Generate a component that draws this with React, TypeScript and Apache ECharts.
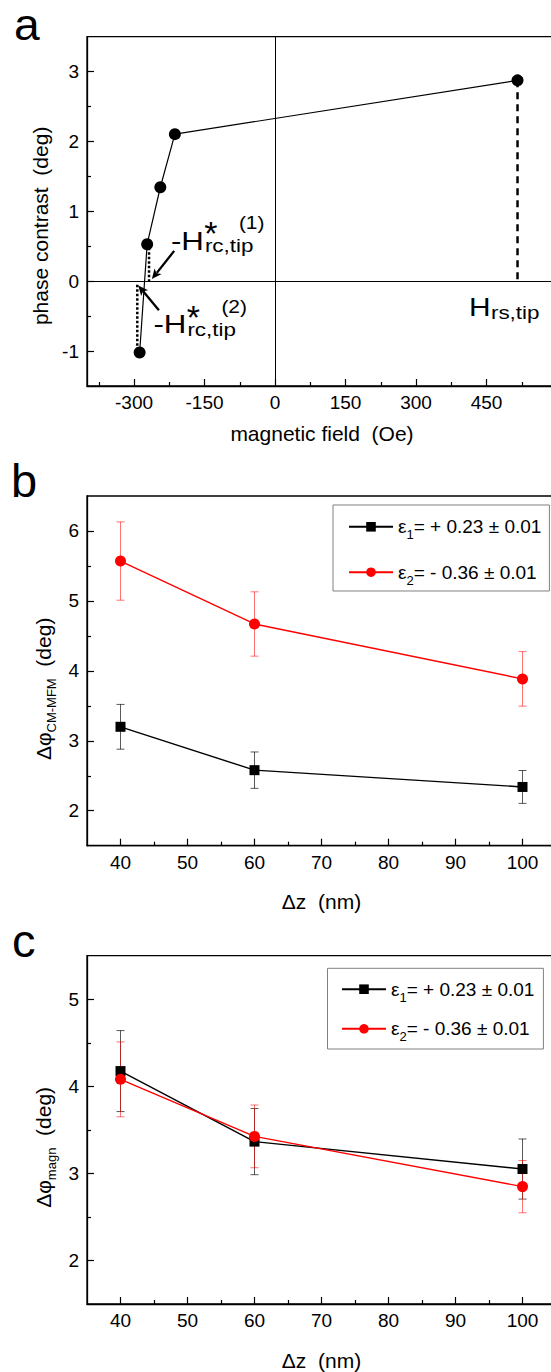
import React, { useEffect, useRef } from 'react';
import * as echarts from 'echarts';

const FONT = '"Liberation Sans", Arial, Helvetica, sans-serif';

// ---------- Panel a : phase contrast vs magnetic field ----------
const fieldOe = [-288, -272, -244, -213, 516];
const phaseDeg = [-1.02, 0.53, 1.345, 2.105, 2.875];
const aXTicks = [-300, -150, 0, 150, 300, 450];
const aXMinor = [-375, -225, -75, 75, 225, 375, 525];
const aYTicks = [-1, 0, 1, 2, 3];
const aYMinor = [-0.5, 0.5, 1.5, 2.5];
const rcTip1Line = [[-268, 0.48], [-268, 0]];
const rcTip2Line = [[-293, -0.05], [-293, -0.97]];
const arrow1 = [[-214.5, 0.434], [-262, 0.03]];
const arrow2 = [[-247, -0.415], [-291, -0.06]];
// annotation anchors (data coords)
const ann1Anchor = [-221.5, 0.58];
const ann2Anchor = [-258.7, -0.62];
const hrsAnchor = [412.6, -0.365];

// ---------- Panels b, c ----------
const dz = [40, 60, 100];
const bEps1 = [3.2, 2.58, 2.34];
const bEps1Err = [0.32, 0.26, 0.235];
const bEps2 = [5.57, 4.67, 3.885];
const bEps2Err = [0.56, 0.46, 0.39];
const cEps1 = [4.175, 3.365, 3.05];
const cEps1Err = [0.465, 0.38, 0.345];
const cEps2 = [4.08, 3.425, 2.848];
const cEps2Err = [0.43, 0.36, 0.3];
const dzTicks = [40, 50, 60, 70, 80, 90, 100];
const dzMinor = [45, 55, 65, 75, 85, 95];
const bYTicks = [2, 3, 4, 5, 6];
const bYMinor = [2.5, 3.5, 4.5, 5.5];
const cYTicks = [2, 3, 4, 5];
const cYMinor = [2.5, 3.5, 4.5];
const seriesNames = ['ε1= + 0.23 ± 0.01', 'ε2= - 0.36 ± 0.01'];

const BLACK = '#000000';
const RED = '#ff0000';

function majorAxis(gridIndex: number, position: string, min: number, max: number, ticks: number[], name: string, nameGap: number, nameStyle: any) {
  const isY = position === 'left';
  return {
    type: 'value',
    gridIndex,
    position,
    min,
    max,
    axisLine: { show: true, onZero: false, lineStyle: { color: BLACK, width: 1.3 } },
    axisTick: { show: true, inside: true, length: 7, customValues: ticks, lineStyle: { color: BLACK, width: 1.2 } },
    axisLabel: {
      show: true,
      customValues: ticks,
      margin: isY ? 8 : 7,
      fontSize: 19,
      color: BLACK,
      fontFamily: FONT,
      formatter: (v: number) => String(v),
    },
    splitLine: { show: false },
    name,
    nameLocation: 'middle',
    nameGap,
    nameRotate: isY ? 90 : 0,
    nameTextStyle: Object.assign({ fontSize: 21, color: BLACK, fontFamily: FONT, lineHeight: 22 }, nameStyle),
  };
}

function minorAxis(gridIndex: number, position: string, min: number, max: number, ticks: number[]) {
  return {
    type: 'value',
    gridIndex,
    position,
    min,
    max,
    axisLine: { show: false, onZero: false },
    axisTick: { show: true, inside: true, length: 4, customValues: ticks, lineStyle: { color: BLACK, width: 1.2 } },
    axisLabel: { show: false },
    splitLine: { show: false },
  };
}

function errSeries(axisIndex: number, xs: number[], ys: number[], es: number[], color: string) {
  return {
    type: 'custom',
    xAxisIndex: axisIndex,
    yAxisIndex: axisIndex,
    silent: true,
    z: 1,
    data: xs.map((x, i) => [x, ys[i], es[i]]),
    encode: { x: 0, y: 1 },
    renderItem: (params: any, api: any) => {
      const x = api.value(0);
      const y = api.value(1);
      const e = api.value(2);
      const top = api.coord([x, y + e]);
      const bot = api.coord([x, y - e]);
      const w = 4;
      const st = { stroke: color, lineWidth: 1 };
      return {
        type: 'group',
        children: [
          { type: 'line', shape: { x1: top[0], y1: top[1], x2: bot[0], y2: bot[1] }, style: st },
          { type: 'line', shape: { x1: top[0] - w, y1: top[1], x2: top[0] + w, y2: top[1] }, style: st },
          { type: 'line', shape: { x1: bot[0] - w, y1: bot[1], x2: bot[0] + w, y2: bot[1] }, style: st },
        ],
      };
    },
  };
}

function lineSeries(axisIndex: number, name: string, xs: number[], ys: number[], color: string, symbol: string, size: number) {
  return {
    type: 'line',
    name,
    xAxisIndex: axisIndex,
    yAxisIndex: axisIndex,
    data: xs.map((x, i) => [x, ys[i]]),
    symbol,
    symbolSize: size,
    itemStyle: { color },
    lineStyle: { color, width: 1.4 },
    z: 3,
  };
}

const richLegend = {
  g: { fontSize: 19, lineHeight: 22, fontFamily: FONT, color: BLACK },
  s: { fontSize: 13, lineHeight: 22, padding: [16, 0, 0, 0], fontFamily: FONT, color: BLACK },
  t: { fontSize: 19, lineHeight: 22, fontFamily: FONT, color: BLACK },
};

function legendFormatter(name: string) {
  const m = name.match(/^ε(\d)(.*)$/);
  if (!m) return name;
  return `{g|ε}{s|${m[1]}}{t|${m[2]}}`;
}

function legend(left: number, top: number, gap: number, padding: number[]) {
  return {
    orient: 'vertical',
    left,
    top,
    itemWidth: 44,
    itemHeight: 12,
    itemGap: gap,
    padding,
    borderColor: '#808080',
    borderWidth: 1,
    backgroundColor: '#ffffff',
    selectedMode: false,
    data: seriesNames,
    formatter: legendFormatter,
    textStyle: { color: BLACK, fontSize: 19, fontFamily: FONT, rich: richLegend },
  };
}

const yRich = {
  m: { fontSize: 21, lineHeight: 22, fontFamily: FONT, color: BLACK },
  s: { fontSize: 13, lineHeight: 22, padding: [16, 0, 0, 0], fontFamily: FONT, color: BLACK },
};

function buildOption() {
  const gridStyle = { show: true, borderColor: BLACK, borderWidth: 1.3, backgroundColor: 'transparent' };
  return {
    animation: false,
    textStyle: { fontFamily: FONT },
    grid: [
      Object.assign({ left: 87, top: 36.7, width: 470, height: 349.3 }, gridStyle),
      Object.assign({ left: 87, top: 496, width: 469, height: 349.7 }, gridStyle),
      Object.assign({ left: 87, top: 955.7, width: 469, height: 349.6 }, gridStyle),
    ],
    xAxis: [
      majorAxis(0, 'bottom', -400, 600, aXTicks, 'magnetic field  (Oe)', 36, {}),
      minorAxis(0, 'bottom', -400, 600, aXMinor),
      majorAxis(1, 'bottom', 35, 105, dzTicks, 'Δz  (nm)', 45, {}),
      minorAxis(1, 'bottom', 35, 105, dzMinor),
      majorAxis(2, 'bottom', 35, 105, dzTicks, 'Δz  (nm)', 45, {}),
      minorAxis(2, 'bottom', 35, 105, dzMinor),
    ],
    yAxis: [
      majorAxis(0, 'left', -1.5, 3.5, aYTicks, 'phase contrast  (deg)', 30, { padding: [0, 29, 0, 0] }),
      minorAxis(0, 'left', -1.5, 3.5, aYMinor),
      majorAxis(1, 'left', 1.5, 6.5, bYTicks, '{m|Δφ}{s|CM-MFM}{m|  (deg)}', 30, { padding: [0, 36, 0, 0], rich: yRich }),
      minorAxis(1, 'left', 1.5, 6.5, bYMinor),
      majorAxis(2, 'left', 1.5, 5.5, cYTicks, '{m|Δφ}{s|magn}{m|  (deg)}', 30, { padding: [0, 35, 0, 0], rich: yRich }),
      minorAxis(2, 'left', 1.5, 5.5, cYMinor),
    ],
    legend: [
      legend(333, 505, 16.4, [7.3, 8, 4.3, 15]),
      legend(327.5, 968.3, 10.6, [6.4, 9, 5.7, 13.5]),
    ],
    series: [
      {
        type: 'line',
        name: 'phase',
        xAxisIndex: 0,
        yAxisIndex: 0,
        data: fieldOe.map((x, i) => [x, phaseDeg[i]]),
        symbol: 'circle',
        symbolSize: 12,
        itemStyle: { color: BLACK },
        lineStyle: { color: BLACK, width: 1.2 },
        z: 3,
        markLine: {
          silent: true,
          symbol: ['none', 'none'],
          label: { show: false },
          lineStyle: { color: BLACK, width: 1, type: 'solid' },
          data: [{ xAxis: 0 }, { yAxis: 0 }],
        },
      },
      {
        type: 'line',
        name: 'Hrs',
        xAxisIndex: 0,
        yAxisIndex: 0,
        data: [[fieldOe[4], phaseDeg[4]], [fieldOe[4], 0]],
        symbol: 'none',
        lineStyle: { color: BLACK, width: 2.5, type: [7, 5] },
        z: 2,
      },
      {
        type: 'line',
        name: 'rc1',
        xAxisIndex: 0,
        yAxisIndex: 0,
        data: rcTip1Line,
        symbol: 'none',
        lineStyle: { color: BLACK, width: 2.5, type: [2.5, 2] },
        z: 2,
      },
      {
        type: 'line',
        name: 'rc2',
        xAxisIndex: 0,
        yAxisIndex: 0,
        data: rcTip2Line,
        symbol: 'none',
        lineStyle: { color: BLACK, width: 2.5, type: [2.5, 2] },
        z: 2,
      },
      errSeries(2, dz, bEps1, bEps1Err, 'rgba(0,0,0,0.65)'),
      errSeries(2, dz, bEps2, bEps2Err, 'rgba(255,0,0,0.55)'),
      lineSeries(2, seriesNames[0], dz, bEps1, BLACK, 'rect', 10),
      lineSeries(2, seriesNames[1], dz, bEps2, RED, 'circle', 11),
      errSeries(4, dz, cEps1, cEps1Err, 'rgba(0,0,0,0.65)'),
      errSeries(4, dz, cEps2, cEps2Err, 'rgba(255,0,0,0.55)'),
      lineSeries(4, seriesNames[0], dz, cEps1, BLACK, 'rect', 10),
      lineSeries(4, seriesNames[1], dz, cEps2, RED, 'circle', 11),
    ],
  };
}

function txt(x: number, y: number, text: string, size: number, scaleX = 1.2, align = 'left') {
  return {
    type: 'text',
    x,
    y,
    scaleX,
    z: 100,
    style: { text, fontSize: size, fontFamily: FONT, fill: BLACK, align, verticalAlign: 'middle' },
  };
}

function arrowGraphic(tail: number[], head: number[]) {
  const dx = head[0] - tail[0];
  const dy = head[1] - tail[1];
  const len = Math.sqrt(dx * dx + dy * dy);
  const ux = dx / len;
  const uy = dy / len;
  const hl = 10; // head length
  const hw = 4.5; // half head width
  const bx = head[0] - ux * hl;
  const by = head[1] - uy * hl;
  return [
    {
      type: 'line',
      z: 100,
      shape: { x1: tail[0], y1: tail[1], x2: bx + ux * 2, y2: by + uy * 2 },
      style: { stroke: BLACK, lineWidth: 2.3 },
    },
    {
      type: 'polygon',
      z: 100,
      shape: { points: [[head[0], head[1]], [bx - uy * hw, by + ux * hw], [bx + ux * 2.5, by + uy * 2.5], [bx + uy * hw, by - ux * hw]] },
      style: { fill: BLACK },
    },
  ];
}

function buildGraphics(p: (d: number[]) => number[]) {
  const g: any[] = [];
  // panel letters
  g.push(txt(14, 24.5, 'a', 44, 1.05));
  g.push(txt(11, 480.7, 'b', 47, 1));
  g.push(txt(12, 940.7, 'c', 47, 1));
  // arrows
  g.push(...arrowGraphic(p(arrow1[0]), p(arrow1[1])));
  g.push(...arrowGraphic(p(arrow2[0]), p(arrow2[1])));
  // -H*rc,tip annotations
  const rc = (a: number[], idx: string) => {
    const [x, y] = p(a);
    g.push(txt(x, y, '-H', 25, 1.25));
    g.push(txt(x + 40, y - 7.6, '*', 34, 1, 'center'));
    g.push(txt(x + 34, y + 4.8, 'rc,tip', 19, 1.18));
    g.push(txt(x + 68, y - 18.5, `(${idx})`, 19, 1.1));
  };
  rc(ann1Anchor, '1');
  rc(ann2Anchor, '2');
  const [hx, hy] = p(hrsAnchor);
  g.push(txt(hx, hy, 'H', 26, 1.15));
  g.push(txt(hx + 22, hy + 5.3, 'rs,tip', 19, 1.18));
  return g;
}

export default function App() {
  const ref = useRef<HTMLDivElement>(null);
  useEffect(() => {
    const el = ref.current;
    if (!el) return;
    const chart = echarts.init(el, undefined, { renderer: 'svg' });
    chart.setOption(buildOption() as any);
    const p = (d: number[]) => chart.convertToPixel({ xAxisIndex: 0, yAxisIndex: 0 } as any, d) as number[];
    chart.setOption({ graphic: buildGraphics(p) } as any);
    return () => chart.dispose();
  }, []);
  return (
    <div style={{ position: 'absolute', left: 0, top: 0, width: 551, height: 1372, overflow: 'hidden', background: '#ffffff' }}>
      <div ref={ref} style={{ width: 562, height: 1372 }} />
    </div>
  );
}
